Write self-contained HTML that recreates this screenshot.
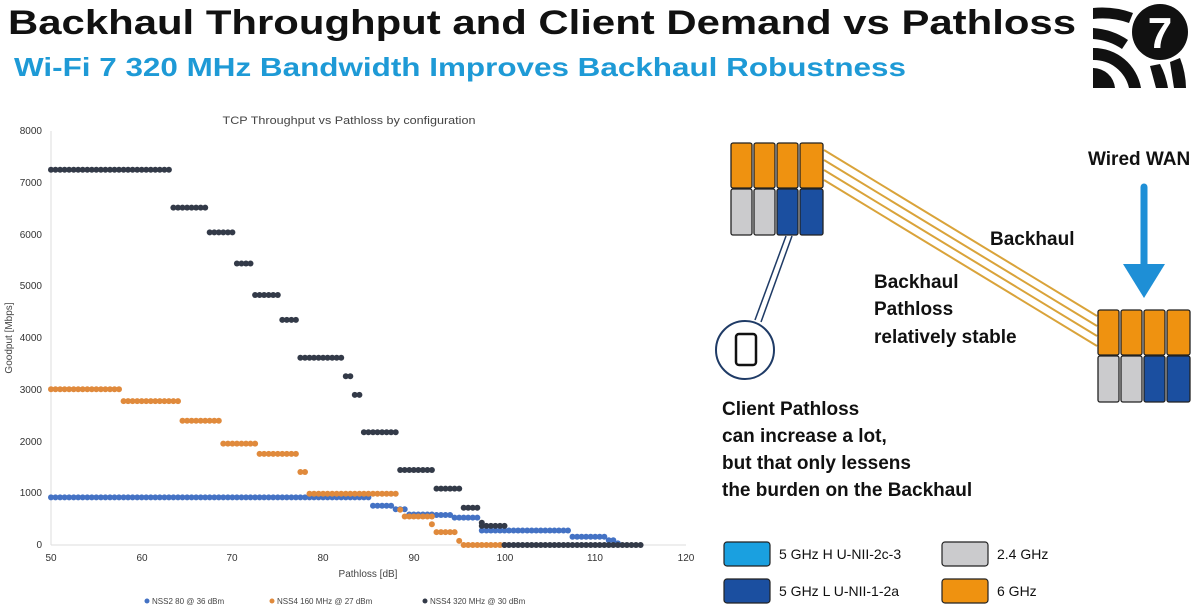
<!DOCTYPE html>
<html><head><meta charset="utf-8"><style>
html,body{margin:0;padding:0;background:#fff;}
svg{display:block;font-family:"Liberation Sans","DejaVu Sans",sans-serif;}
</style></head><body>
<svg id="s" width="1200" height="608" viewBox="0 0 1200 608" xmlns="http://www.w3.org/2000/svg">
<text x="8" y="34" font-size="34" font-weight="bold" fill="#111" textLength="1068" lengthAdjust="spacingAndGlyphs">Backhaul Throughput and Client Demand vs Pathloss</text>
<text x="14" y="76" font-size="26" font-weight="bold" fill="#1e9ad6" textLength="892" lengthAdjust="spacingAndGlyphs">Wi-Fi 7 320 MHz Bandwidth Improves Backhaul Robustness</text>
<g fill="#111">
<circle cx="1160" cy="32" r="28"/>
<text x="1160" y="48" font-size="44" font-weight="bold" fill="#fff" text-anchor="middle">7</text>
<path d="M1093 8 a90 90 0 0 1 40 5 l-4 10 a80 80 0 0 0 -36 -4z"/>
<path d="M1093 28 a70 70 0 0 1 35 12 l-6 9 a58 58 0 0 0 -29 -10z"/>
<path d="M1093 48 a48 48 0 0 1 48 40 l-12 0 a36 36 0 0 0 -36 -28z"/>
<path d="M1093 68 a22 22 0 0 1 22 20 l-22 0z"/>
<path d="M1150 66 l10 -2 a80 80 0 0 1 8 24 l-12 0z"/>
<path d="M1170 62 l10 -4 a85 85 0 0 1 6 30 l-12 0z"/>
</g>
<text x="349" y="124" font-size="11" fill="#444" text-anchor="middle" textLength="253" lengthAdjust="spacingAndGlyphs">TCP Throughput vs Pathloss by configuration</text>
<g font-size="10" fill="#333" text-anchor="end">
<text x="42" y="134">8000</text><text x="42" y="186">7000</text><text x="42" y="238">6000</text><text x="42" y="289">5000</text><text x="42" y="341">4000</text><text x="42" y="393">3000</text><text x="42" y="445">2000</text><text x="42" y="496">1000</text><text x="42" y="548">0</text>
</g>
<line x1="51" y1="131" x2="51" y2="545" stroke="#ddd"/>
<line x1="51" y1="545" x2="686" y2="545" stroke="#ddd"/>
<g font-size="10" fill="#333" text-anchor="middle">
<text x="51" y="561">50</text><text x="142" y="561">60</text><text x="232" y="561">70</text><text x="323" y="561">80</text><text x="414" y="561">90</text><text x="505" y="561">100</text><text x="595" y="561">110</text><text x="686" y="561">120</text>
</g>
<text x="368" y="577" font-size="10" fill="#444" text-anchor="middle">Pathloss [dB]</text>
<text transform="translate(12,338) rotate(-90)" font-size="10" fill="#444" text-anchor="middle">Goodput [Mbps]</text>
<g id="dots"></g>
<g font-size="8" fill="#444">
<circle cx="147" cy="601" r="2.5" fill="#4472c4"/><text x="152" y="604">NSS2 80 @ 36 dBm</text>
<circle cx="272" cy="601" r="2.5" fill="#e08a3c"/><text x="277" y="604">NSS4 160 MHz @ 27 dBm</text>
<circle cx="425" cy="601" r="2.5" fill="#333a48"/><text x="430" y="604">NSS4 320 MHz @ 30 dBm</text>
</g>
<g stroke="#d9a33a" stroke-width="2">
<line x1="824" y1="150" x2="1097" y2="316"/>
<line x1="824" y1="160" x2="1097" y2="326"/>
<line x1="824" y1="170" x2="1097" y2="336"/>
<line x1="824" y1="180" x2="1097" y2="346"/>
</g>
<g stroke="#1f3b66" stroke-width="1.5">
<line x1="786" y1="236" x2="755" y2="320"/>
<line x1="792" y1="236" x2="761" y2="322"/>
</g>
<circle cx="745" cy="350" r="29" fill="#fff" stroke="#1f3b66" stroke-width="2"/>
<rect x="736" y="334" width="20" height="31" rx="3" fill="#fff" stroke="#111" stroke-width="2.5"/>
<g stroke="#222" stroke-width="1.3">
<rect x="731" y="143" width="21" height="45" rx="2" fill="#ef9210"/>
<rect x="754" y="143" width="21" height="45" rx="2" fill="#ef9210"/>
<rect x="777" y="143" width="21" height="45" rx="2" fill="#ef9210"/>
<rect x="800" y="143" width="23" height="45" rx="2" fill="#ef9210"/>
<rect x="731" y="189" width="21" height="46" rx="2" fill="#cbcbcd"/>
<rect x="754" y="189" width="21" height="46" rx="2" fill="#cbcbcd"/>
<rect x="777" y="189" width="21" height="46" rx="2" fill="#1b4fa0"/>
<rect x="800" y="189" width="23" height="46" rx="2" fill="#1b4fa0"/>
</g>
<g stroke="#222" stroke-width="1.3" transform="translate(367,167)">
<rect x="731" y="143" width="21" height="45" rx="2" fill="#ef9210"/>
<rect x="754" y="143" width="21" height="45" rx="2" fill="#ef9210"/>
<rect x="777" y="143" width="21" height="45" rx="2" fill="#ef9210"/>
<rect x="800" y="143" width="23" height="45" rx="2" fill="#ef9210"/>
<rect x="731" y="189" width="21" height="46" rx="2" fill="#cbcbcd"/>
<rect x="754" y="189" width="21" height="46" rx="2" fill="#cbcbcd"/>
<rect x="777" y="189" width="21" height="46" rx="2" fill="#1b4fa0"/>
<rect x="800" y="189" width="23" height="46" rx="2" fill="#1b4fa0"/>
</g>
<line x1="1144" y1="187" x2="1144" y2="268" stroke="#1e8fd6" stroke-width="7" stroke-linecap="round"/>
<polygon points="1123,264 1165,264 1144,298" fill="#1e8fd6"/>
<g font-size="19" font-weight="bold" fill="#111">
<text x="1088" y="165">Wired WAN</text>
<text x="990" y="245">Backhaul</text>
<text x="874" y="288">Backhaul</text>
<text x="874" y="315">Pathloss</text>
<text x="874" y="343">relatively stable</text>
<text x="722" y="415">Client Pathloss</text>
<text x="722" y="442">can increase a lot,</text>
<text x="722" y="469">but that only lessens</text>
<text x="722" y="496">the burden on the Backhaul</text>
</g>
<g stroke="#222" stroke-width="1.2">
<rect x="724" y="542" width="46" height="24" rx="3" fill="#1aa0e0"/>
<rect x="724" y="579" width="46" height="24" rx="3" fill="#1b4fa0"/>
<rect x="942" y="542" width="46" height="24" rx="3" fill="#cbcbcd"/>
<rect x="942" y="579" width="46" height="24" rx="3" fill="#ef9210"/>
</g>
<g font-size="14" fill="#111">
<text x="779" y="559">5 GHz H U-NII-2c-3</text>
<text x="779" y="596">5 GHz L U-NII-1-2a</text>
<text x="997" y="559">2.4 GHz</text>
<text x="997" y="596">6 GHz</text>
</g>
</svg>
<script>
var X=function(d){return 51+(d-50)*9.07;},Y=function(v){return 545-v*0.05175;};
var series=[
["#4472c4",[[50,85,920],[85.5,87.5,760],[88,89,690],[89.5,92,590],[92.5,94,580],[94.5,97,530],[97.5,107,280],[107.5,111,160],[111.5,112,90],[112.5,112.5,30]]],
["#e08a3c",[[50,57.5,3010],[58,64,2780],[64.5,68.5,2400],[69,72.5,1960],[73,77,1760],[77.5,78,1410],[78.5,88,990],[88.5,88.5,680],[89,92,550],[92,92,400],[92.5,94.5,250],[95,95,80],[95.5,100,0]]],
["#333a48",[[50,63,7250],[63.5,67,6520],[67.5,70,6040],[70.5,72,5440],[72.5,75,4830],[75.5,77,4350],[77.5,82,3620],[82.5,83,3260],[83.5,84,2900],[84.5,88,2180],[88.5,92,1450],[92.5,95,1090],[95.5,97,720],[97.5,97.5,430],[97.5,100,370],[100,115,0]]]];
var g=document.getElementById('dots'),h='';
series.forEach(function(s){s[1].forEach(function(r){for(var d=r[0];d<=r[1]+1e-6;d+=0.5){h+='<circle cx="'+X(d).toFixed(1)+'" cy="'+Y(r[2]).toFixed(1)+'" r="3" fill="'+s[0]+'"/>';}});});
g.innerHTML=h;
</script>
</body></html>
